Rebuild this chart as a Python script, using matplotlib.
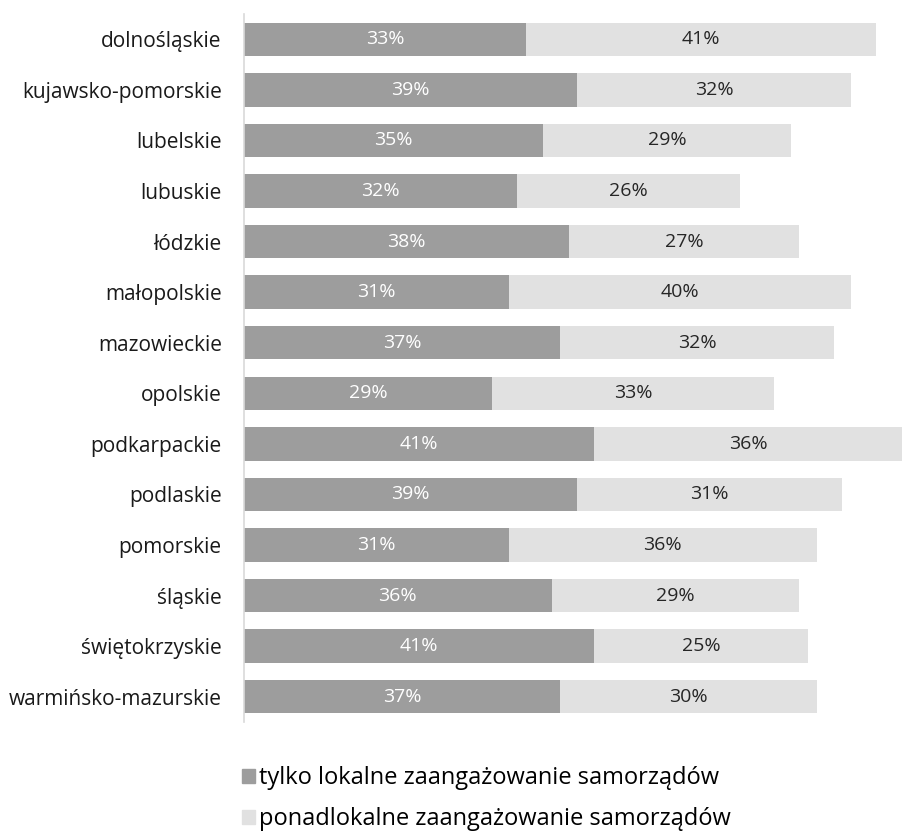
import matplotlib.pyplot as plt
from matplotlib.patches import Patch

plt.rcParams["font.family"] = ["Open Sans", "DejaVu Sans"]

regions = ["dolnośląskie", "kujawsko-pomorskie", "lubelskie", "lubuskie", "łódzkie",
           "małopolskie", "mazowieckie", "opolskie", "podkarpackie", "podlaskie",
           "pomorskie", "śląskie", "świętokrzyskie", "warmińsko-mazurskie"]
local_only = [33, 39, 35, 32, 38, 31, 37, 29, 41, 39, 31, 36, 41, 37]
supra_local = [41, 32, 29, 26, 27, 40, 32, 33, 36, 31, 36, 29, 25, 30]
series_names = ["tylko lokalne zaangażowanie samorządów",
                "ponadlokalne zaangażowanie samorządów"]

dark = "#9d9d9d"
light = "#e1e1e1"

fig = plt.figure(figsize=(9.02, 8.31), dpi=100)
ax = fig.add_axes([244 / 902, 1 - 722 / 831, 1 - 244 / 902, 708 / 831])

y = list(range(len(regions)))
ax.barh(y, local_only, height=0.66, color=dark)
ax.barh(y, supra_local, left=local_only, height=0.66, color=light)

for i, (a, b) in enumerate(zip(local_only, supra_local)):
    ax.text(a / 2, i, f"{a}%", ha="center", va="center", color="white", fontsize=14)
    ax.text(a + b / 2, i, f"{b}%", ha="center", va="center", color="#262626", fontsize=14)

ax.set_ylim(len(regions) - 0.5, -0.5)
ax.set_xlim(0, 77)
ax.set_yticks(y)
ax.set_yticklabels(regions, fontsize=15, color="#1a1a1a")
ax.tick_params(axis="y", length=0, pad=16)
ax.set_xticks([])
for s in ["top", "right", "bottom"]:
    ax.spines[s].set_visible(False)
ax.spines["left"].set_color("#d9d9d9")
ax.spines["left"].set_linewidth(1.2)

handles = [Patch(color=dark), Patch(color=light)]
fig.legend(handles, series_names, loc="upper left", bbox_to_anchor=(233 / 902, 1 - 757 / 831),
           frameon=False, fontsize=17, handlelength=0.55, handleheight=0.55,
           handletextpad=0.15, labelspacing=0.7, borderaxespad=0)

fig.savefig("out.png", dpi=100)
